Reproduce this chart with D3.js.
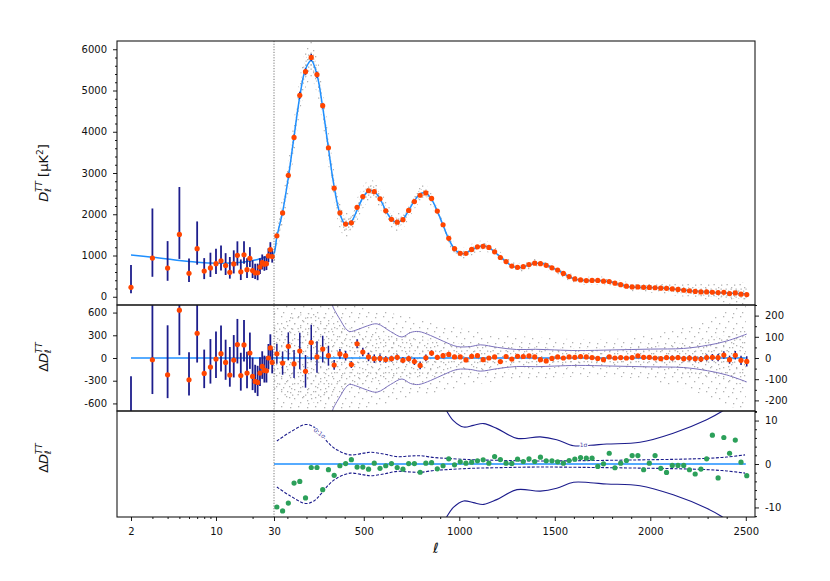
<!DOCTYPE html>
<html>
<head>
<meta charset="utf-8">
<script src="https://cdn.jsdelivr.net/npm/d3@7/dist/d3.min.js"></script>
<style>
  body { margin: 0; background: #fff; }
  text { font-family: "DejaVu Sans", sans-serif; }
</style>
</head>
<body>
<svg id="chart" width="830" height="581"></svg>
<script>
// ------------------------------------------------------------
// data
// ------------------------------------------------------------

// low multipoles, l = 2..29
const lowEll = d3.range(2, 30);
const lowTheory = [1010, 960, 917, 880, 855, 838, 826, 818, 815, 814,
                   815, 818, 822, 828, 836, 845, 855, 866, 878, 891,
                   905, 920, 936, 953, 971, 990, 1010, 1031];
const theoryAt30 = 1052;
const lowResid = [-782, -23, -222, 632, -288, 327, -204, -120, -13, 57,
                  -58, -226, -27, 177, -231, 173, -199, 66, -244, -310,
                  -323, -199, -111, -164, -169, 0, 133, -58];
const lowErrUp = [540, 1203, 654, 1148, 363, 661, 315, 370, 364, 371,
                  300, 371, 330, 339, 300, 330, 280, 270, 250, 220,
                  220, 210, 200, 195, 190, 185, 180, 175];
const lowErrDn = [146, 453, 308, 595, 208, 387, 194, 218, 251, 234,
                  230, 153, 230, 249, 200, 220, 200, 210, 180, 150,
                  180, 170, 165, 160, 155, 150, 150, 145];

// binned high multipoles, bin centres 45, 75, ... 2505
const binEll = d3.range(83).map(k => 45 + 30 * k);
const binTheory = [1457, 2055, 2890, 3890, 4850, 5520, 5730, 5380, 4590, 3600,
                   2665, 2015, 1750, 1823, 2100, 2400, 2565, 2550, 2375, 2090,
                   1880, 1805, 1880, 2095, 2325, 2495, 2515, 2360, 2075, 1735,
                   1400, 1160, 1048, 1058, 1140, 1200, 1230, 1195, 1085, 968,
                   845, 748, 705, 722, 770, 808, 810, 775, 703, 642,
                   565, 484, 430, 400, 388, 393, 398, 385, 365, 330,
                   290, 257, 235, 228, 225, 222, 218, 212, 202, 190,
                   176, 160, 146, 132, 122, 114, 106, 99, 93, 86,
                   80, 74, 68];
const binResid = [20, -24, 55, -28, 33, -63, 73, 5, 42, 11,
                  -33, 19, 11, -31, 67, 28, 5, -3, -2, -7,
                  -3, 3, -11, -3, -17, -35, 1, 23, 3, 11,
                  17, 5, 5, -9, 8, 11, -8, 0, 5, -17,
                  7, -5, 8, 7, 10, 5, -8, -14, -2, 5,
                  0, 5, 3, 7, 5, 2, -2, -8, 5, 0,
                  2, 0, 2, 10, 3, 3, 0, -3, 2, 0,
                  2, -3, 0, -3, -5, 2, 3, 2, 14, -8,
                  13, -11, -16];
const binErr = [47, 55, 66, 66, 86, 77, 84, 74, 63, 47,
                23, 23, 23, 16, 21, 20, 20, 20, 18, 15,
                14, 14, 14, 14, 16, 18, 16, 13, 12, 12,
                11, 10, 9, 9, 9, 9, 9, 8, 8, 8,
                8, 8, 8, 8, 8, 8, 8, 8, 8, 8,
                8, 8, 8, 8, 8, 8, 8, 8, 8, 8,
                8, 9, 9, 9, 10, 10, 10, 11, 11, 12,
                12, 13, 13, 14, 14, 15, 16, 17, 18, 19,
                20, 22, 24];
const greenResid = [-9.9, -10.8, -9.0, -4.4, -4.0, -7.8, -0.8, -0.8, -5.9, -1.3,
                    -2.6, -0.4, 0.1, 1.0, -0.7, -0.7, -1.2, 0.2, -1.0, -0.4,
                    0.1, -0.8, -1.2, 0.1, 0.1, -1.9, 0.2, 0.3, -1.1, -0.4,
                    1.2, -0.2, 0.5, 0.2, 0.43, 0.73, 0.95, 0.2, 1.72, 1.03,
                    0.2, 0.13, 1.1, 0.57, 1.2, 0.57, 1.56, 0.73, 0.73, 0.5,
                    0.2, 0.8, 1.1, 1.48, 1.33, 1.33, -0.56, 0.05, 2.47, -0.86,
                    0.2, 0.8, 1.95, 1.95, -1.32, 0.2, 1.95, -1.0, -1.93, -0.33,
                    -0.33, -0.33, -1.32, -2.3, -1.17, 1.2, 6.64, -3.2, 6.1, 2.47,
                    5.5, 0.43, -2.68];

// spread of the unbinned points (1 sigma, muK^2)
const scatL = [30, 60, 100, 150, 200, 250, 300, 400, 500, 600, 700, 800, 1000,
               1200, 1400, 1600, 1800, 2000, 2200, 2350, 2500];
const scatS = [150, 170, 190, 200, 210, 210, 200, 150, 120, 110, 100, 90, 70,
               55, 50, 45, 45, 55, 75, 100, 130];

// residual envelope in the middle panel
const envL = [300, 335, 360, 380, 400, 425, 470, 520, 570, 640,
              700, 744, 787, 850, 919, 989, 1058, 1110, 1200, 1300,
              1400, 1500, 1620, 1800, 2000, 2174, 2300, 2400, 2505];
const envV = [420, 250, 205, 175, 145, 125, 135, 152, 161, 125,
              99, 120, 125, 106, 78, 54, 54, 62, 50, 40,
              41, 38, 35, 38, 42, 45, 60, 80, 113];

// bottom panel contours
const dashL = [45, 117, 195, 239, 274, 317, 361, 430, 500, 535, 605, 675, 745,
               797, 867, 936, 1058, 1200, 1424, 1700, 1947, 2150, 2296, 2400, 2496];
const dashV = [5.3, 7.4, 9.1, 8.5, 7.0, 4.75, 3.2, 2.1, 2.5, 2.7, 2.3, 1.7, 1.85,
               1.9, 1.5, 1.3, 1.0, 0.85, 0.7, 0.8, 0.95, 1.1, 1.3, 1.6, 2.1];
const solidL = [900, 934, 969, 1023, 1074, 1128, 1196, 1302, 1424, 1510,
                1598, 1686, 1772, 1946, 2120, 2295, 2374, 2420];
const solidV = [15, 12.2, 10.0, 8.5, 8.9, 9.3, 8.2, 5.9, 6.25, 5.6,
                4.2, 4.3, 4.6, 5.0, 7.1, 10.2, 12.1, 13.5];

// tick values
const topTicks = [0, 1000, 2000, 3000, 4000, 5000, 6000];
const midLeftTicks = [-600, -300, 0, 300, 600];
const midRightTicks = [-200, -100, 0, 100, 200];
const botRightTicks = [-10, 0, 10];
const logTicks = [2, 10, 30];
const linTicks = [500, 1000, 1500, 2000, 2500];

// ------------------------------------------------------------
// layout and scales
// ------------------------------------------------------------
const svg = d3.select("#chart");
const left = 117, right = 755;
const panels = { top: [41, 305], mid: [305, 411], bot: [411, 517] };

const xLog = d3.scaleLog().domain([2, 30]).range([131, 274]);
const xLin = d3.scaleLinear().domain([30, 2500]).range([274, 745.8]);
const x = l => (l <= 30 ? xLog(l) : xLin(l));

const yTop = d3.scaleLinear().domain([-200, 6200]).range([305, 41]);
const yMidL = d3.scaleLinear().domain([-700, 700]).range([411, 305]);
const yMidR = d3.scaleLinear().domain([-250, 250]).range([411, 305]);
const yBot = d3.scaleLinear().domain([-12.2, 12.2]).range([517, 411]);

const sigma = d3.scaleLinear().domain(scatL).range(scatS).clamp(true);

const cBlue = "#1e8fff", cOrange = "#ff4500", cBar = "#1d1d8c",
      cGreen = "#2ca05a", cPurple = "#7c72bc", cNavy = "#1c1c8c";

const defs = svg.append("defs");
Object.entries(panels).forEach(([k, [y0, y1]]) => {
  defs.append("clipPath").attr("id", "clip-" + k)
    .append("rect").attr("x", left).attr("y", y0)
    .attr("width", right - left).attr("height", y1 - y0);
});

// grain patterns standing in for the cloud of unbinned points
function grain(id, w, h, pts) {
  const p = defs.append("pattern").attr("id", id)
    .attr("width", w).attr("height", h).attr("patternUnits", "userSpaceOnUse");
  pts.forEach(([gx, gy]) => p.append("rect").attr("x", gx).attr("y", gy)
    .attr("width", 1.3).attr("height", 1.3).attr("fill", "#b2b2b2"));
}
grain("grainA", 17, 15, [[1, 2], [9, 1], [14, 6], [5, 8], [11, 12], [2, 13]]);
grain("grainB", 13, 11, [[3, 1], [8, 4], [11.5, 9], [1, 6], [6, 9.5]]);
grain("grainC", 5, 4, [[0.5, 0.5], [3, 2.5]]);

const gTop = svg.append("g").attr("clip-path", "url(#clip-top)");
const gMid = svg.append("g").attr("clip-path", "url(#clip-mid)");
const gBot = svg.append("g").attr("clip-path", "url(#clip-bot)");

// ------------------------------------------------------------
// top panel
// ------------------------------------------------------------
const theoryPts = lowEll.map((l, i) => [l, lowTheory[i]])
  .concat([[30, theoryAt30]], binEll.map((l, i) => [l, binTheory[i]]));
const bandPts = [[30, theoryAt30]].concat(binEll.map((l, i) => [l, binTheory[i]]));

[[2.2, "grainB"], [1.1, "grainC"]].forEach(([m, pat]) => {
  gTop.append("path")
    .datum(bandPts)
    .attr("fill", `url(#${pat})`)
    .attr("d", d3.area()
      .x(d => x(d[0]))
      .y0(d => yTop(d[1] - m * sigma(d[0])))
      .y1(d => yTop(d[1] + m * sigma(d[0])))
      .curve(d3.curveCatmullRom));
});

gTop.append("path")
  .datum(theoryPts)
  .attr("fill", "none")
  .attr("stroke", cBlue)
  .attr("stroke-width", 1.5)
  .attr("d", d3.line().x(d => x(d[0])).y(d => yTop(d[1])).curve(d3.curveCatmullRom));

const lowData = lowEll.map((l, i) => ({
  l, d: lowTheory[i] + lowResid[i], r: lowResid[i], up: lowErrUp[i], dn: lowErrDn[i]
}));
const binData = binEll.map((l, i) => ({
  l, d: binTheory[i] + binResid[i], r: binResid[i], e: binErr[i], g: greenResid[i]
}));

gTop.selectAll("line.lowbar").data(lowData).enter().append("line")
  .attr("x1", d => x(d.l)).attr("x2", d => x(d.l))
  .attr("y1", d => yTop(d.d - d.dn)).attr("y2", d => yTop(d.d + d.up))
  .attr("stroke", cBar).attr("stroke-width", 1.8);
gTop.selectAll("line.binbar").data(binData).enter().append("line")
  .attr("x1", d => x(d.l)).attr("x2", d => x(d.l))
  .attr("y1", d => yTop(d.d - d.e)).attr("y2", d => yTop(d.d + d.e))
  .attr("stroke", cBar).attr("stroke-width", 1.5);
gTop.selectAll("circle.pt").data(lowData.concat(binData)).enter().append("circle")
  .attr("cx", d => x(d.l)).attr("cy", d => yTop(d.d)).attr("r", 2.6)
  .attr("fill", cOrange);

// ------------------------------------------------------------
// middle panel
// ------------------------------------------------------------
[[2, "grainA"], [1, "grainB"]].forEach(([m, pat]) => {
  gMid.append("path")
    .datum(scatL)
    .attr("fill", `url(#${pat})`)
    .attr("d", d3.area()
      .x(l => x(l))
      .y0(l => yMidR(-m * sigma(l)))
      .y1(l => yMidR(m * sigma(l)))
      .curve(d3.curveMonotoneX));
});

[1, -1].forEach(s => {
  gMid.append("path")
    .datum(envL.map((l, i) => [l, s * envV[i]]))
    .attr("fill", "none").attr("stroke", cPurple).attr("stroke-width", 1)
    .attr("d", d3.line().x(d => x(d[0])).y(d => yMidR(d[1])).curve(d3.curveCatmullRom));
});

gMid.append("line")
  .attr("x1", x(2)).attr("x2", x(2500))
  .attr("y1", yMidL(0)).attr("y2", yMidL(0))
  .attr("stroke", cBlue).attr("stroke-width", 1.6);

gMid.selectAll("line.lowbar").data(lowData).enter().append("line")
  .attr("x1", d => x(d.l)).attr("x2", d => x(d.l))
  .attr("y1", d => yMidL(d.r - d.dn)).attr("y2", d => yMidL(d.r + d.up))
  .attr("stroke", cBar).attr("stroke-width", 1.8);
gMid.selectAll("line.binbar").data(binData).enter().append("line")
  .attr("x1", d => x(d.l)).attr("x2", d => x(d.l))
  .attr("y1", d => yMidR(d.r - d.e)).attr("y2", d => yMidR(d.r + d.e))
  .attr("stroke", cBar).attr("stroke-width", 1.5);
gMid.selectAll("circle.low").data(lowData).enter().append("circle")
  .attr("cx", d => x(d.l)).attr("cy", d => yMidL(d.r)).attr("r", 2.6)
  .attr("fill", cOrange);
gMid.selectAll("circle.bin").data(binData).enter().append("circle")
  .attr("cx", d => x(d.l)).attr("cy", d => yMidR(d.r)).attr("r", 2.6)
  .attr("fill", cOrange);

// ------------------------------------------------------------
// bottom panel
// ------------------------------------------------------------
const botLine = d3.line().x(d => x(d[0])).y(d => yBot(d[1])).curve(d3.curveCatmullRom);
[1, -1].forEach(s => {
  gBot.append("path")
    .datum(dashL.map((l, i) => [l, s * dashV[i]]))
    .attr("fill", "none").attr("stroke", cNavy).attr("stroke-width", 1.1)
    .attr("stroke-dasharray", "3,1.6")
    .attr("d", botLine);
  gBot.append("path")
    .datum(solidL.map((l, i) => [l, s * solidV[i]]))
    .attr("fill", "none").attr("stroke", cNavy).attr("stroke-width", 1.1)
    .attr("d", botLine);
});

gBot.append("line")
  .attr("x1", x(30)).attr("x2", x(2500))
  .attr("y1", yBot(0)).attr("y2", yBot(0))
  .attr("stroke", cBlue).attr("stroke-width", 1.6);

gBot.selectAll("circle.g").data(binData).enter().append("circle")
  .attr("cx", d => x(d.l)).attr("cy", d => yBot(d.g)).attr("r", 2.6)
  .attr("fill", cGreen);

function contourLabel(txt, px, py, rot) {
  gBot.append("text")
    .attr("transform", `translate(${px},${py}) rotate(${rot})`)
    .attr("text-anchor", "middle").attr("dy", "0.35em")
    .attr("font-size", 6).attr("fill", "#4a4aa8")
    .attr("stroke", "#fff").attr("stroke-width", 2.2).attr("paint-order", "stroke")
    .text(txt);
}
contourLabel("0.1σ", x(268), yBot(7.1), 38);
contourLabel("1σ", x(1650), yBot(4.3), 0);

// ------------------------------------------------------------
// frames, ell = 30 divider
// ------------------------------------------------------------
svg.append("line")
  .attr("x1", x(30)).attr("x2", x(30)).attr("y1", 41).attr("y2", 517)
  .attr("stroke", "#555").attr("stroke-width", 0.8).attr("stroke-dasharray", "1.2,1.5");

Object.values(panels).forEach(([y0, y1]) => {
  svg.append("rect").attr("x", left).attr("y", y0)
    .attr("width", right - left).attr("height", y1 - y0)
    .attr("fill", "none").attr("stroke", "#1a1a1a").attr("stroke-width", 1.1);
});

// ------------------------------------------------------------
// axes
// ------------------------------------------------------------
function drawAxis(make, scale, pos, major, minor, pad) {
  const fmt = d => String(d);
  const gs = [];
  if (minor.length) {
    gs.push(svg.append("g").attr("transform", pos)
      .call(make(scale).tickValues(minor).tickSize(2).tickFormat("")));
  }
  gs.push(svg.append("g").attr("transform", pos)
    .call(make(scale).tickValues(major).tickSize(4).tickPadding(pad).tickFormat(fmt)));
  gs.forEach(g => {
    g.select(".domain").remove();
    g.selectAll("line").attr("stroke", "#000").attr("stroke-width", 0.9);
    g.selectAll("text").attr("fill", "#111").attr("font-size", 10)
      .attr("font-family", "DejaVu Sans");
  });
}

drawAxis(d3.axisLeft, yTop, `translate(${left},0)`, topTicks,
  d3.range(200, 6200, 200).filter(v => v % 1000 !== 0), 6);
drawAxis(d3.axisLeft, yMidL, `translate(${left},0)`, midLeftTicks, [], 6);
drawAxis(d3.axisRight, yMidR, `translate(${right},0)`, midRightTicks,
  [-250, -150, -50, 50, 150, 250], 6);
drawAxis(d3.axisRight, yBot, `translate(${right},0)`, botRightTicks,
  [-12, -8, -6, -4, -2, 2, 4, 6, 8, 12], 6);
drawAxis(d3.axisBottom, xLog, `translate(0,517)`, logTicks, [3, 4, 5, 6, 7, 8, 9, 20], 7);
drawAxis(d3.axisBottom, xLin, `translate(0,517)`, linTicks,
  d3.range(100, 2500, 100).filter(v => v % 500 !== 0), 7);

// ------------------------------------------------------------
// axis titles
// ------------------------------------------------------------
function deltaLabel(cy, withUnit, delta) {
  const t = svg.append("text")
    .attr("transform", `translate(48,${cy}) rotate(-90)`)
    .attr("text-anchor", "middle")
    .attr("font-family", "DejaVu Serif").attr("font-size", 13).attr("fill", "#111");
  if (delta) t.append("tspan").text("Δ");
  t.append("tspan").attr("font-style", "italic").text("D");
  t.append("tspan").attr("font-size", 9).attr("font-style", "italic").attr("dy", 3).text("ℓ");
  t.append("tspan").attr("font-size", 9).attr("font-style", "italic")
    .attr("dx", -4).attr("dy", -9).text("TT");
  if (withUnit) {
    t.append("tspan").attr("dy", 6).text(" [μK");
    t.append("tspan").attr("font-size", 9).attr("dy", -5).text("2");
    t.append("tspan").attr("dy", 5).text("]");
  } else {
    t.append("tspan").attr("dy", 6).text(" ");
  }
}
deltaLabel(173, true, false);
deltaLabel(357, false, true);
deltaLabel(458, false, true);

svg.append("text")
  .attr("x", 436).attr("y", 553)
  .attr("text-anchor", "middle")
  .attr("font-family", "DejaVu Serif").attr("font-style", "italic")
  .attr("font-size", 14).attr("fill", "#111")
  .text("ℓ");
</script>
</body>
</html>
